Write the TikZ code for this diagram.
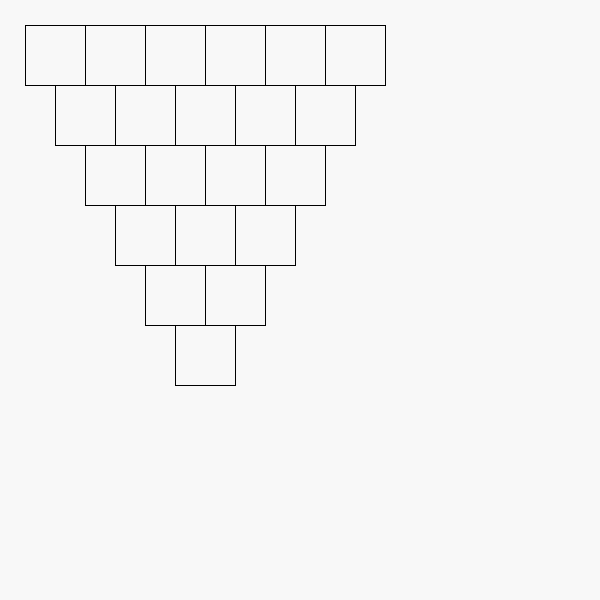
\documentclass[tikz,border=0pt]{standalone}
\usepackage{tikz}
\definecolor{bggray}{RGB}{248,248,248}

\begin{document}
\begin{tikzpicture}[
  x=0.05cm, y=-0.05cm,
  cell/.style={draw=black, line width=1pt}
]
  \fill[bggray] (0,0) rectangle (600,600);
  \useasboundingbox (0,0) rectangle (600,600);

  % rows of squares, one fewer each row
  \foreach \r in {0,...,5} {
    \pgfmathtruncatemacro{\last}{5-\r}
    \foreach \c in {0,...,\last} {
      \draw[cell] ({25+30*\r+60*\c},{25+60*\r}) rectangle ++(60,60);
    }
  }
\end{tikzpicture}
\end{document}
